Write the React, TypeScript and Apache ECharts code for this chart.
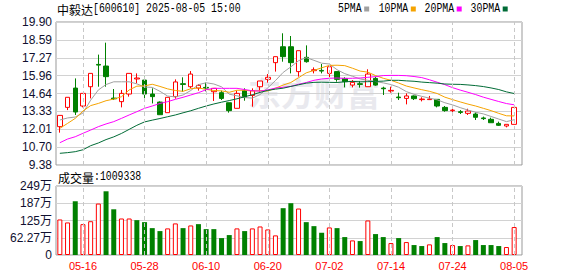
import { useEffect, useRef } from "react";
import * as echarts from "echarts";

const dates = [
  "05-13","05-14","05-15","05-16","05-19","05-20","05-21","05-22","05-23","05-26",
  "05-27","05-28","05-29","05-30","06-03","06-04","06-05","06-06","06-09","06-10",
  "06-11","06-12","06-13","06-16","06-17","06-18","06-19","06-20","06-23","06-24",
  "06-25","06-26","06-27","06-30","07-01","07-02","07-03","07-04","07-07","07-08",
  "07-09","07-10","07-11","07-14","07-15","07-16","07-17","07-18","07-21","07-22",
  "07-23","07-24","07-25","07-28","07-29","07-30","07-31","08-01","08-04","08-05",
];

// [open, close, low, high]
const ohlc: number[][] = [
  [12.20, 13.03, 11.76, 13.05], [13.62, 14.36, 13.42, 14.36], [15.04, 13.28, 13.06, 15.75], [13.72, 14.65, 13.62, 14.65],
  [15.14, 16.12, 14.28, 16.12], [16.78, 16.73, 15.14, 17.50], [16.66, 15.88, 15.14, 18.38], [14.30, 14.25, 14.16, 14.97],
  [14.04, 14.65, 13.62, 14.90], [14.60, 16.12, 14.41, 16.12], [15.71, 15.78, 15.39, 16.12], [15.63, 14.60, 14.16, 15.88],
  [14.60, 14.41, 13.91, 15.02], [14.01, 13.08, 13.08, 14.06], [13.23, 14.36, 13.23, 14.36], [14.41, 15.49, 14.26, 15.68],
  [15.36, 15.31, 14.77, 15.83], [15.14, 16.07, 15.02, 16.29], [15.04, 15.24, 14.85, 15.34], [15.09, 15.04, 14.80, 15.44],
  [14.77, 15.02, 14.09, 15.02], [14.70, 14.28, 14.16, 14.85], [13.96, 13.38, 13.23, 13.96], [13.55, 14.65, 13.55, 14.85],
  [14.85, 14.36, 14.11, 15.02], [14.50, 14.85, 13.67, 15.02], [15.14, 15.56, 14.77, 15.56], [15.68, 15.83, 15.44, 16.07],
  [16.91, 17.35, 16.25, 17.35], [18.08, 17.35, 16.98, 19.07], [18.08, 16.91, 16.12, 18.87], [16.25, 17.79, 15.88, 17.79],
  [17.30, 16.98, 16.91, 18.18], [16.32, 16.39, 16.12, 16.56], [16.34, 16.29, 16.12, 16.81], [16.12, 16.61, 15.83, 16.86],
  [16.25, 15.68, 15.51, 16.25], [15.75, 15.51, 15.09, 15.83], [15.26, 15.46, 15.09, 15.63], [15.36, 15.31, 15.07, 15.56],
  [15.14, 16.07, 15.14, 16.42], [15.75, 15.26, 15.21, 15.88], [15.04, 14.99, 14.53, 15.14], [14.82, 14.87, 14.70, 15.14],
  [14.38, 14.33, 14.16, 14.70], [14.28, 14.46, 13.84, 14.65], [14.46, 14.26, 14.16, 14.50], [14.19, 14.23, 14.06, 14.36],
  [14.19, 14.23, 14.16, 14.46], [14.21, 13.72, 13.62, 14.21], [13.62, 13.38, 13.30, 13.72], [13.38, 13.42, 13.23, 13.50],
  [13.30, 13.25, 13.13, 13.42], [13.18, 13.35, 13.06, 13.52], [13.13, 12.89, 12.69, 13.25], [12.84, 12.79, 12.69, 12.94],
  [12.74, 12.49, 12.49, 12.86], [12.44, 12.30, 12.25, 12.57], [12.25, 12.37, 12.15, 12.37], [12.37, 13.62, 12.37, 13.62],
];

const ma5 = [
  12.69, 12.84, 12.91, 13.20, 14.15, 14.90, 15.30, 15.50, 15.50, 15.50,
  15.35, 15.12, 15.09, 14.80, 14.45, 14.39, 14.53, 14.86, 15.29, 15.43,
  15.34, 15.13, 14.59, 14.47, 14.34, 14.30, 14.56, 15.05, 15.59, 16.19,
  16.60, 17.05, 17.28, 17.08, 16.87, 16.81, 16.39, 16.10, 15.91, 15.71,
  15.61, 15.52, 15.42, 15.30, 15.10, 14.78, 14.58, 14.43, 14.30, 14.18,
  13.96, 13.80, 13.60, 13.42, 13.26, 13.14, 12.95, 12.76, 12.57, 12.71,
];
const ma10 = [
  12.08, 12.44, 12.81, 13.35, 13.75, 13.91, 14.11, 14.23, 14.40, 14.90,
  15.18, 15.20, 15.32, 15.16, 14.98, 14.86, 14.80, 14.99, 15.05, 14.94,
  14.86, 14.83, 14.73, 14.88, 14.88, 14.82, 14.85, 14.82, 15.03, 15.26,
  15.45, 15.80, 16.16, 16.34, 16.53, 16.71, 16.72, 16.69, 16.50, 16.29,
  16.21, 15.96, 15.76, 15.61, 15.41, 15.19, 15.05, 14.92, 14.80, 14.64,
  14.37, 14.19, 14.02, 13.86, 13.72, 13.55, 13.38, 13.18, 13.00, 12.99,
];
const ma20 = [
  11.02, 11.29, 11.46, 11.71, 11.95, 12.20, 12.40, 12.57, 12.81, 13.06,
  13.30, 13.55, 13.72, 13.91, 14.04, 14.21, 14.36, 14.53, 14.70, 14.92,
  15.02, 15.02, 15.02, 15.02, 14.93, 14.84, 14.82, 14.90, 15.04, 15.10,
  15.16, 15.32, 15.45, 15.61, 15.71, 15.76, 15.78, 15.75, 15.76, 15.78,
  15.83, 15.88, 15.96, 15.97, 15.97, 15.95, 15.89, 15.81, 15.65, 15.47,
  15.29, 15.07, 14.89, 14.73, 14.56, 14.37, 14.21, 14.05, 13.90, 13.81,
];
const ma30 = [
  10.24, 10.29, 10.36, 10.50, 10.80, 11.00, 11.25, 11.45, 11.70, 12.00,
  12.30, 12.55, 12.68, 12.80, 12.93, 13.06, 13.22, 13.37, 13.55, 13.72,
  13.87, 14.00, 14.12, 14.25, 14.40, 14.55, 14.72, 14.87, 14.96, 15.03,
  15.16, 15.28, 15.40, 15.46, 15.47, 15.46, 15.45, 15.50, 15.53, 15.50,
  15.51, 15.53, 15.55, 15.61, 15.61, 15.57, 15.54, 15.48, 15.44, 15.40,
  15.34, 15.32, 15.31, 15.27, 15.22, 15.15, 15.05, 14.93, 14.76, 14.64,
];

// volume in 万 shares
const volume = [
  128.3, 117.5, 194.0, 111.4, 122.0, 185.7, 230.0, 165.0, 131.8, 131.8,
  125.8, 118.6, 97.0, 86.3, 96.0, 114.0, 97.0, 106.7, 111.4, 93.4,
  93.4, 61.0, 71.9, 96.0, 86.3, 96.0, 103.0, 92.3, 70.8, 169.0,
  187.0, 167.8, 118.6, 104.2, 80.3, 99.5, 97.0, 64.7, 52.7, 50.3,
  124.7, 75.5, 64.7, 43.1, 61.1, 46.7, 35.9, 32.3, 38.4, 64.7,
  43.1, 35.9, 32.3, 34.8, 53.9, 35.9, 35.9, 32.3, 28.8, 100.93,
];
// 1 = red (up), 0 = green (down)
const volUp = [
  1, 1, 0, 1, 1, 1, 0, 0, 1, 1,
  0, 0, 0, 0, 1, 1, 0, 1, 0, 0,
  0, 0, 0, 1, 0, 1, 1, 1, 1, 0,
  0, 1, 0, 0, 0, 1, 0, 0, 1, 0,
  1, 0, 0, 1, 0, 1, 0, 0, 1, 0,
  0, 1, 0, 1, 0, 0, 0, 0, 1, 1,
];

const priceTicks = ["9.38", "10.70", "12.01", "13.33", "14.64", "15.96", "17.27", "18.59", "19.90"];
const volTicks = ["0", "62.27万", "125万", "187万", "249万"];
const markDates = ["05-16", "05-28", "06-10", "06-20", "07-02", "07-14", "07-24", "08-05"];

const titleName = "中毅达";
const titleRest = "[600610] 2025-08-05 15:00";
const volName = "成交量";
const volRest = ":1009338";
const legendNames = ["5PMA", "10PMA", "20PMA", "30PMA"];
const maColors = ["#a0a0a0", "#f5a300", "#ff00ff", "#006b36"];

const SANS = '"Liberation Sans", "Noto Sans CJK SC", sans-serif';
const MONO = '"Liberation Mono", "DejaVu Sans Mono", monospace';
const CJK = '"Noto Sans CJK SC", sans-serif';

export default function App() {
  const ref = useRef<HTMLDivElement>(null);

  useEffect(() => {
    const chart = echarts.init(ref.current!, null, { renderer: "svg" });

    const dashed = {
      silent: true,
      symbol: ["none", "none"],
      label: { show: false },
      emphasis: { disabled: true },
      lineStyle: { type: [4, 3], color: "#c8c8c8", width: 1 },
      data: markDates.map((d) => ({ xAxis: d })),
    };

    const legendX = [338, 378.7, 424.6, 470.6];
    const legendGraphics: any[] = [];
    legendNames.forEach((n, i) => {
      legendGraphics.push({
        type: "text",
        x: legendX[i],
        y: 9,
        scaleX: 0.82,
        style: { text: n, font: `12px ${MONO}`, fill: "#000", verticalAlign: "middle" },
      });
      legendGraphics.push({
        type: "rect",
        shape: { x: legendX[i] + n.length * 5.92 + 2.5, y: 6.5, width: 5, height: 5 },
        style: { fill: maColors[i] },
      });
    });

    const option: any = {
      animation: false,
      backgroundColor: "#fff",
      textStyle: { fontFamily: SANS },
      graphic: [
        {
          type: "text",
          x: 248,
          y: 92,
          z: 0,
          style: {
            text: "东方财富",
            font: `bold 33px ${CJK}`,
            fill: "#e9e9ee",
            verticalAlign: "middle",
          },
        },
        {
          type: "text",
          x: 57,
          y: 9,
          style: { text: titleName, font: `12px ${CJK}`, fill: "#000", verticalAlign: "middle" },
        },
        {
          type: "text",
          x: 93,
          y: 9,
          scaleX: 0.82,
          style: { text: titleRest, font: `12px ${MONO}`, fill: "#000", verticalAlign: "middle" },
        },
        {
          type: "text",
          x: 58,
          y: 177,
          style: { text: volName, font: `12px ${CJK}`, fill: "#000", verticalAlign: "middle" },
        },
        {
          type: "text",
          x: 94,
          y: 177,
          scaleX: 0.82,
          style: { text: volRest, font: `12px ${MONO}`, fill: "#000", verticalAlign: "middle" },
        },
        ...legendGraphics,
      ],
      grid: [
        { left: 56, top: 22, width: 466, height: 143, show: true, borderColor: "#999", borderWidth: 1 },
        { left: 56, top: 22, width: 462, height: 143 },
        { left: 56, top: 186, width: 466, height: 69, show: true, borderColor: "#999", borderWidth: 1 },
        { left: 56, top: 186, width: 462, height: 69 },
      ],
      xAxis: [
        { type: "value", gridIndex: 0, min: 0, max: 1, show: false },
        { type: "category", gridIndex: 1, data: dates, boundaryGap: true, show: false },
        { type: "value", gridIndex: 2, min: 0, max: 1, show: false },
        {
          type: "category",
          gridIndex: 3,
          data: dates,
          boundaryGap: true,
          axisLine: { show: false },
          axisTick: { show: false },
          splitLine: { show: false },
          axisLabel: {
            interval: (_i: number, v: string) => markDates.includes(v),
            color: "#ff0000",
            fontSize: 11,
            fontFamily: SANS,
            margin: 5,
          },
        },
      ],
      yAxis: [
        {
          type: "value",
          gridIndex: 0,
          min: 9.38,
          max: 19.9,
          interval: 1.315,
          axisLine: { show: false },
          axisTick: { show: false },
          splitLine: { show: true, lineStyle: { color: "#d2d2d2", width: 1 } },
          axisLabel: {
            formatter: (v: number) => priceTicks[Math.round((v - 9.38) / 1.315)] ?? "",
            color: "#101030",
            fontSize: 12,
            fontFamily: SANS,
            margin: 4,
          },
        },
        { type: "value", gridIndex: 1, min: 9.38, max: 19.9, show: false },
        {
          type: "value",
          gridIndex: 2,
          min: 0,
          max: 249.08,
          interval: 62.27,
          axisLine: { show: false },
          axisTick: { show: false },
          splitLine: { show: true, lineStyle: { color: "#d2d2d2", width: 1 } },
          axisLabel: {
            formatter: (v: number) => volTicks[Math.round(v / 62.27)] ?? "",
            color: "#101030",
            fontSize: 12,
            fontFamily: SANS,
            margin: 4,
          },
        },
        { type: "value", gridIndex: 3, min: 0, max: 249.08, show: false },
      ],
      series: [
        {
          type: "candlestick",
          xAxisIndex: 1,
          yAxisIndex: 1,
          data: ohlc,
          barWidth: 5,
          itemStyle: {
            color: "#ffffff",
            color0: "#008000",
            borderColor: "#ff0000",
            borderColor0: "#008000",
            borderWidth: 1,
          },
          markLine: dashed,
        },
        ...[ma5, ma10, ma20, ma30].map((d, i) => ({
          type: "line",
          xAxisIndex: 1,
          yAxisIndex: 1,
          data: d,
          symbol: "none",
          lineStyle: { color: maColors[i], width: 1 },
          silent: true,
        })),
        {
          type: "bar",
          xAxisIndex: 3,
          yAxisIndex: 3,
          barWidth: 5,
          data: volume.map((v, i) => ({
            value: v,
            itemStyle: volUp[i]
              ? { color: "#ffffff", borderColor: "#ff0000", borderWidth: 1 }
              : { color: "#008000", borderColor: "#008000", borderWidth: 0 },
          })),
          markLine: dashed,
        },
      ],
    };

    chart.setOption(option);
    return () => chart.dispose();
  }, []);

  return (
    <div
      ref={ref}
      style={{ position: "fixed", left: 0, top: 0, width: 578, height: 276 }}
    />
  );
}
